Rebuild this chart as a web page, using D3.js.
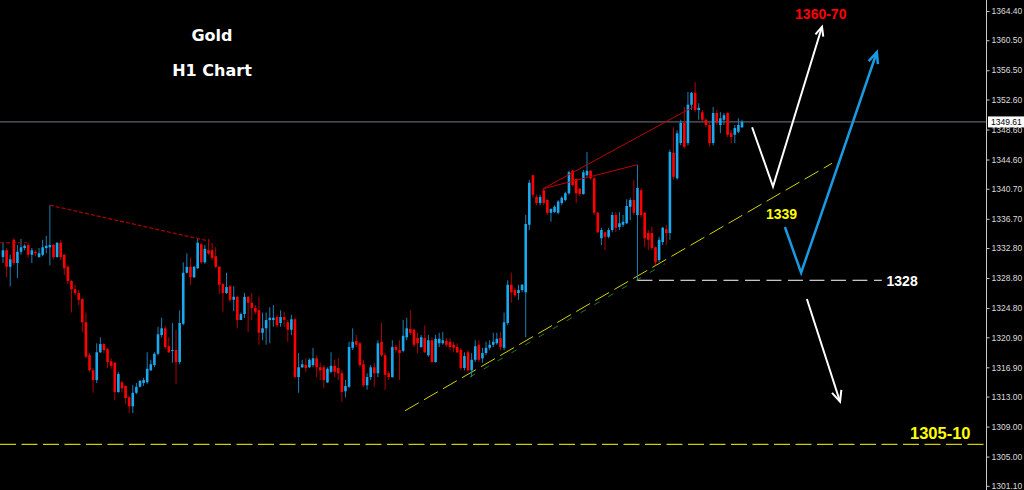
<!DOCTYPE html>
<html><head><meta charset="utf-8">
<script src="https://cdn.jsdelivr.net/npm/d3@7"></script>
<style>html,body{margin:0;padding:0;background:#000;overflow:hidden}</style>
</head><body><svg id="c" width="1024" height="490"></svg>
<script>
// ---- data (H1 gold candles) ----
const open=[
1331.6,1332.5,1330.3,1333.9,1330.8,1332.3,1332.8,1333.2,1331.9,1332.3,
1331.6,1331.9,1332.8,1332.9,1333.2,1331.6,1333.5,1331.9,1330.3,1328.4,
1327.3,1326.8,1326.0,1322.9,1318.5,1316.5,1315.2,1318.9,1320.0,1319.3,
1317.7,1317.5,1313.6,1314.9,1314.4,1312.9,1311.7,1313.5,1314.3,1314.8,
1314.9,1316.5,1317.2,1318.7,1321.2,1322.1,1319.7,1319.1,1319.2,1317.6,
1322.7,1329.5,1330.3,1328.9,1330.1,1333.3,1330.9,1332.5,1332.5,1331.7,
1330.3,1328.0,1326.8,1327.7,1325.9,1326.3,1323.2,1324.0,1326.3,1325.5,
1324.8,1324.5,1321.5,1322.1,1323.2,1323.2,1323.6,1322.8,1323.6,1322.9,
1321.9,1323.3,1315.6,1316.9,1317.2,1316.9,1317.2,1318.1,1316.9,1316.9,
1314.9,1316.3,1317.1,1316.8,1316.1,1313.7,1314.3,1319.5,1320.4,1320.1,
1317.3,1314.5,1315.6,1316.9,1316.1,1320.3,1318.5,1316.1,1315.6,1319.6,
1319.2,1319.1,1320.9,1322.0,1321.9,1320.8,1319.6,1320.8,1318.5,1320.5,
1317.6,1320.1,1320.1,1320.4,1320.3,1319.9,1319.6,1319.2,1316.8,1318.9,
1316.5,1317.9,1319.9,1318.1,1318.8,1319.5,1319.9,1320.1,1320.8,1319.5,
1322.8,1327.9,1327.2,1326.8,1327.2,1326.9,1335.9,1342.5,1339.6,1338.8,
1340.5,1339.2,1337.5,1337.6,1337.5,1338.8,1339.2,1340.1,1343.1,1342.0,
1340.7,1340.0,1342.5,1343.1,1342.1,1337.5,1334.1,1334.9,1334.3,1335.2,
1337.2,1335.6,1335.9,1336.1,1338.3,1339.2,1337.2,1340.5,1337.5,1334.8,
1334.8,1332.9,1331.2,1333.6,1335.3,1334.8,1345.5,1342.1,1346.8,1349.5,
1346.8,1351.9,1353.5,1351.2,1350.9,1349.9,1349.2,1346.8,1350.8,1349.2,
1349.9,1350.8,1348.1,1347.9,1348.3,1348.9];
const high=[
1333.5,1332.8,1331.9,1334.1,1333.2,1334.0,1333.3,1333.5,1332.8,1332.5,
1332.8,1333.9,1334.4,1338.5,1333.3,1333.6,1333.9,1332.0,1330.5,1328.5,
1327.9,1327.2,1326.1,1324.2,1318.8,1316.8,1320.1,1320.9,1320.1,1319.5,
1318.1,1317.6,1316.3,1315.1,1314.5,1313.1,1314.5,1314.8,1315.2,1315.5,
1318.9,1317.9,1318.9,1322.3,1323.5,1322.4,1320.9,1322.8,1321.9,1324.5,
1330.9,1332.1,1331.5,1330.4,1334.0,1333.5,1333.2,1334.0,1333.5,1332.9,
1330.4,1328.1,1329.5,1327.9,1327.7,1326.4,1324.2,1326.8,1326.4,1326.8,
1325.2,1326.3,1324.2,1324.2,1324.9,1325.2,1323.9,1324.5,1324.3,1323.2,
1323.9,1323.5,1318.8,1317.9,1318.1,1318.1,1319.5,1318.5,1317.5,1317.2,
1316.9,1318.9,1317.9,1318.1,1316.5,1315.2,1320.3,1322.1,1321.2,1320.3,
1317.9,1316.1,1317.2,1317.5,1320.5,1322.8,1318.8,1316.4,1320.5,1319.9,
1320.5,1323.2,1323.5,1324.5,1322.1,1321.5,1321.2,1322.5,1321.2,1320.9,
1321.2,1321.5,1321.6,1320.8,1320.8,1320.3,1320.1,1319.5,1318.9,1319.2,
1318.8,1320.5,1320.5,1319.5,1320.3,1320.5,1321.5,1321.5,1321.6,1324.2,
1328.5,1329.5,1327.5,1327.9,1328.0,1337.2,1341.9,1342.6,1339.9,1339.9,
1340.7,1339.3,1338.1,1338.5,1339.2,1339.7,1340.3,1343.1,1343.2,1342.1,
1340.8,1343.2,1345.6,1343.2,1342.3,1337.6,1335.5,1335.0,1335.5,1337.6,
1337.6,1337.6,1337.2,1339.3,1339.5,1341.9,1343.9,1340.8,1337.6,1335.2,
1335.6,1333.0,1334.3,1335.6,1335.9,1345.9,1348.9,1348.5,1349.9,1351.6,
1353.6,1353.6,1354.9,1352.1,1351.2,1350.1,1349.5,1351.6,1351.2,1350.9,
1350.8,1350.9,1348.5,1349.2,1350.1,1349.9];
const low=[
1330.8,1328.9,1327.7,1330.5,1328.8,1331.9,1332.5,1331.5,1330.8,1331.7,
1331.5,1331.7,1332.1,1330.5,1331.3,1331.5,1331.2,1329.2,1328.0,1324.2,
1326.5,1325.2,1321.6,1318.1,1316.3,1313.5,1314.8,1318.8,1318.8,1316.8,
1316.7,1312.5,1313.5,1313.6,1312.0,1310.8,1310.8,1313.3,1314.2,1314.4,
1314.7,1316.4,1316.9,1318.5,1320.9,1319.3,1318.8,1317.5,1314.7,1317.3,
1322.5,1329.4,1327.9,1328.8,1330.0,1330.7,1330.7,1331.9,1331.2,1330.1,
1326.7,1324.3,1326.7,1325.6,1324.4,1322.1,1323.5,1323.5,1321.6,1323.2,
1324.0,1319.9,1320.5,1319.9,1320.1,1322.3,1322.3,1322.3,1322.3,1320.3,
1321.2,1315.5,1313.5,1316.8,1316.3,1316.8,1316.9,1315.6,1315.2,1314.1,
1314.8,1316.1,1315.6,1315.2,1312.3,1312.9,1314.1,1319.2,1319.6,1316.9,
1314.3,1313.9,1315.2,1314.3,1315.6,1318.3,1313.9,1315.2,1315.5,1318.9,
1315.2,1318.9,1320.5,1321.2,1319.6,1318.8,1319.5,1318.8,1318.3,1317.5,
1317.5,1319.6,1319.9,1319.6,1319.2,1318.9,1318.8,1316.5,1316.5,1316.3,
1315.6,1317.6,1317.6,1317.5,1318.5,1319.2,1319.6,1319.9,1319.2,1319.2,
1322.5,1325.5,1326.3,1325.9,1326.9,1320.9,1335.2,1339.5,1338.5,1338.5,
1338.5,1337.2,1336.3,1337.5,1337.3,1338.5,1339.0,1339.9,1341.0,1338.8,
1339.7,1339.9,1342.3,1341.9,1337.2,1334.8,1333.2,1332.5,1334.1,1334.9,
1334.9,1335.2,1335.6,1336.0,1336.5,1337.2,1328.5,1336.9,1332.9,1332.5,
1332.5,1330.5,1330.9,1333.2,1333.2,1333.9,1341.9,1341.9,1346.5,1346.1,
1346.5,1351.2,1350.9,1349.9,1349.7,1348.9,1346.3,1346.5,1349.2,1348.1,
1349.2,1347.6,1346.8,1346.8,1348.1,1348.8];
const close=[
1332.5,1330.3,1331.3,1330.8,1332.3,1332.9,1333.1,1331.9,1332.5,1332.1,
1332.1,1332.9,1333.1,1333.2,1331.6,1333.5,1331.6,1330.1,1328.4,1327.3,
1326.8,1325.9,1322.9,1318.3,1316.5,1315.2,1318.9,1320.0,1319.2,1317.6,
1317.1,1313.6,1316.0,1314.1,1312.8,1311.7,1313.5,1314.3,1315.1,1315.2,
1316.7,1317.3,1318.7,1321.3,1322.1,1319.6,1318.9,1319.2,1317.6,1322.8,
1329.5,1330.3,1328.9,1330.3,1333.5,1330.9,1332.7,1332.1,1331.5,1330.3,
1327.9,1326.8,1327.6,1325.9,1326.3,1323.2,1324.0,1326.3,1325.5,1324.8,
1324.3,1321.5,1322.1,1323.2,1323.5,1323.5,1322.5,1323.6,1323.2,1321.9,
1323.3,1315.6,1316.9,1317.3,1316.8,1317.9,1318.1,1316.9,1316.5,1315.2,
1316.7,1317.1,1316.3,1316.1,1313.6,1314.4,1319.6,1320.3,1319.9,1317.2,
1314.5,1315.6,1316.9,1316.1,1320.1,1318.5,1315.9,1315.6,1319.6,1319.2,
1318.8,1321.1,1322.1,1321.5,1319.9,1320.1,1320.9,1318.9,1320.5,1317.6,
1320.7,1320.7,1320.5,1319.9,1319.6,1319.5,1318.9,1316.8,1318.4,1316.5,
1317.9,1319.7,1317.9,1318.8,1319.5,1319.9,1320.3,1320.7,1319.6,1322.9,
1327.9,1326.9,1326.5,1327.2,1327.9,1336.0,1341.5,1339.9,1338.8,1339.6,
1338.8,1337.5,1338.0,1338.3,1339.0,1339.5,1340.1,1342.9,1341.2,1340.1,
1340.0,1342.9,1343.1,1342.1,1337.5,1334.9,1335.2,1334.3,1335.2,1337.2,
1335.5,1336.1,1336.3,1338.4,1339.2,1337.5,1340.8,1337.2,1334.1,1333.9,
1332.8,1330.9,1333.9,1335.5,1334.8,1345.6,1342.3,1348.1,1349.5,1346.3,
1351.9,1353.5,1351.2,1351.5,1349.9,1349.2,1346.8,1350.8,1349.5,1350.1,
1350.5,1347.9,1347.6,1348.8,1349.2,1349.61];

const yTickValues=[1364.40,1360.50,1356.50,1352.60,1348.60,1344.60,1340.70,1336.70,1332.80,1328.80,1324.80,1320.90,1316.90,1313.00,1309.00,1305.00,1301.10];
const lastPrice=1349.61;
const titleLines=["Gold","H1 Chart"];

// annotations in [bar index, price]
const dashedRedLine=[[13,1338.5],[57.4,1333.7]];
const dashedRedStub=[[-0.8,1333.5],[6.7,1333.5]];
const redLineUpper=[[149.8,1340.7],[191.4,1351.6]];
const redLineLower=[[149.8,1340.7],[175.9,1343.9]];
const yellowTrend=[[111.5,1311.1],[230.0,1344.1]];
const greenTrend=[[129.5,1315.8],[183.6,1330.9]];
const level1328=[[176,1328.5],[243.8,1328.5]];
const level1305=1306.63;
const whiteUpArrow=[[207.8,1348.9],[213.6,1341.0],[227.2,1362.3]];
const blueUpArrow=[[216.9,1335.6],[221.4,1329.5],[242.4,1358.9]];
const whiteDownArrow=[[223.0,1326.0],[232.2,1312.3]];
const labels=[
 {text:"1360-70",pos:[226.85,1363.27],color:"#ff0000",size:14,anchor:"middle"},
 {text:"1339",pos:[215.95,1336.67],color:"#ffff00",size:14,anchor:"middle"},
 {text:"1328",pos:[245.1,1327.74],color:"#ffffff",size:14,anchor:"start"},
 {text:"1305-10",pos:[268.4,1307.34],color:"#ffff00",size:16.5,anchor:"end"}
];

// ---- drawing ----
const W=1024,H=490,plotRight=986;
const svg=d3.select("#c");
svg.append("rect").attr("width",W).attr("height",H).attr("fill","#000");

const x=d3.scaleLinear().domain([0,205]).range([3,742]);
const y=d3.scaleLinear().domain([1301.1,1364.4]).range([485.8,11]);
const line=d3.line().x(d=>x(d[0])).y(d=>y(d[1]));

// price line
svg.append("line").attr("x1",0).attr("x2",plotRight)
 .attr("y1",y(lastPrice)).attr("y2",y(lastPrice))
 .attr("stroke","#5a6068").attr("stroke-width",1.2);

// 1305-10 level
svg.append("line").attr("x1",0).attr("x2",plotRight)
 .attr("y1",y(level1305)).attr("y2",y(level1305))
 .attr("stroke","#ffff00").attr("stroke-width",1).attr("stroke-dasharray","16,5.5");

// trendlines under candles
svg.append("path").attr("d",line(greenTrend)).attr("fill","none")
 .attr("stroke","#1f7a1f").attr("stroke-width",1).attr("stroke-dasharray","6,10").attr("transform","translate(0,1.5)");
svg.append("path").attr("d",line(yellowTrend)).attr("fill","none")
 .attr("stroke","#d4d400").attr("stroke-width",1).attr("stroke-dasharray","16,6");

// candles
const idx=d3.range(open.length);
const bodyW=2.6;
const bull=i=>close[i]>=open[i];
const g=svg.append("g");
g.selectAll("line.w").data(idx).join("line").attr("class","w")
 .attr("x1",i=>x(i)).attr("x2",i=>x(i))
 .attr("y1",i=>y(high[i])).attr("y2",i=>y(low[i]))
 .attr("stroke",i=>bull(i)?"#1c7fb4":"#b00000").attr("stroke-width",1);
g.selectAll("rect.b").data(idx).join("rect").attr("class","b")
 .attr("x",i=>x(i)-bodyW/2).attr("width",bodyW)
 .attr("y",i=>y(Math.max(open[i],close[i])))
 .attr("height",i=>Math.max(1,Math.abs(y(open[i])-y(close[i]))))
 .attr("fill",i=>bull(i)?"#1aa8ee":"#ff0000");

// red lines
svg.append("path").attr("d",line(dashedRedLine)).attr("fill","none")
 .attr("stroke","#b00000").attr("stroke-width",1.2).attr("stroke-dasharray","4,2");
svg.append("path").attr("d",line(dashedRedStub)).attr("fill","none")
 .attr("stroke","#b00000").attr("stroke-width",1.2).attr("stroke-dasharray","4,2");
svg.append("path").attr("d",line(redLineUpper)).attr("fill","none").attr("stroke","#c00000").attr("stroke-width",1);
svg.append("path").attr("d",line(redLineLower)).attr("fill","none").attr("stroke","#c00000").attr("stroke-width",1);

// 1328 level
svg.append("path").attr("d",line(level1328)).attr("fill","none")
 .attr("stroke","#ffffff").attr("stroke-width",1).attr("stroke-dasharray","15,6.5");

// arrows
function arrow(pts,color,w,headLen){
  svg.append("path").attr("d",line(pts)).attr("fill","none")
   .attr("stroke",color).attr("stroke-width",w).attr("stroke-linejoin","miter");
  const a=pts[pts.length-2],b=pts[pts.length-1];
  const x1=x(a[0]),y1=y(a[1]),x2=x(b[0]),y2=y(b[1]);
  const ang=Math.atan2(y2-y1,x2-x1);
  const s=0.42;
  const h=[[x2-headLen*Math.cos(ang-s),y2-headLen*Math.sin(ang-s)],[x2,y2],[x2-headLen*Math.cos(ang+s),y2-headLen*Math.sin(ang+s)]];
  svg.append("path").attr("d",d3.line()(h)).attr("fill","none")
   .attr("stroke",color).attr("stroke-width",w);
}
arrow(whiteUpArrow,"#ffffff",2,10);
arrow(blueUpArrow,"#1a9ae0",2.5,12);
arrow(whiteDownArrow,"#ffffff",2,12);

// labels
svg.selectAll("text.lbl").data(labels).join("text").attr("class","lbl")
 .attr("x",d=>x(d.pos[0])).attr("y",d=>y(d.pos[1]))
 .attr("text-anchor",d=>d.anchor)
 .attr("fill",d=>d.color)
 .style("font-family","'Liberation Sans',Arial,sans-serif")
 .style("font-weight","bold").style("font-size",d=>d.size+"px")
 .text(d=>d.text);

// title
svg.selectAll("text.title").data(titleLines).join("text").attr("class","title")
 .attr("x",212).attr("y",(d,i)=>41+i*35).attr("text-anchor","middle")
 .attr("fill","#ffffff").style("font-family","'DejaVu Sans',sans-serif")
 .style("font-weight","bold").style("font-size","16px").text(d=>d);

// right axis
svg.append("line").attr("x1",plotRight+0.5).attr("x2",plotRight+0.5).attr("y1",0).attr("y2",H)
 .attr("stroke","#c8c8c8").attr("stroke-width",1);
const ax=svg.append("g").attr("transform",`translate(${plotRight+0.5},0)`)
 .call(d3.axisRight(y).tickValues(yTickValues).tickFormat(d3.format(".2f")).tickSize(3).tickPadding(2));
ax.select(".domain").remove();
ax.selectAll("line").attr("stroke","#c8c8c8");
ax.selectAll("text").attr("fill","#dcdcdc")
 .style("font-family","'Liberation Sans',Arial,sans-serif").style("font-size","8.5px");

// last price box
const ly=y(lastPrice);
svg.append("rect").attr("x",plotRight+2).attr("y",ly-5.5).attr("width",W-plotRight-2).attr("height",11).attr("fill","#ffffff");
svg.append("text").attr("x",plotRight+5).attr("y",ly).attr("dy","0.32em")
 .attr("fill","#000").style("font-family","'Liberation Sans',Arial,sans-serif").style("font-size","8.5px")
 .text(lastPrice.toFixed(2));
</script></body></html>
